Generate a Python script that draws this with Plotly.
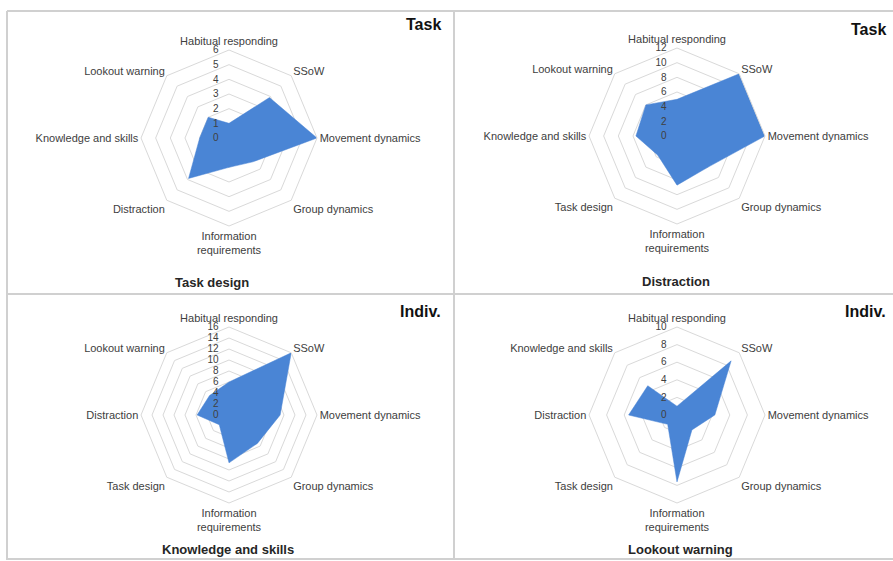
import plotly.graph_objects as go

W, H = 893, 561

# Axis categories (clockwise from the top) for each radar panel
axes_task_design = ["Habitual responding", "SSoW", "Movement dynamics", "Group dynamics",
                    "Information<br>requirements", "Distraction", "Knowledge and skills", "Lookout warning"]
axes_distraction = ["Habitual responding", "SSoW", "Movement dynamics", "Group dynamics",
                    "Information<br>requirements", "Task design", "Knowledge and skills", "Lookout warning"]
axes_knowledge = ["Habitual responding", "SSoW", "Movement dynamics", "Group dynamics",
                  "Information<br>requirements", "Task design", "Distraction", "Lookout warning"]
axes_lookout = ["Habitual responding", "SSoW", "Movement dynamics", "Group dynamics",
                "Information<br>requirements", "Task design", "Distraction", "Knowledge and skills"]

# Values per panel, same order as the axes above
vals_task_design = [1, 3.9, 6, 2.3, 2, 3.9, 2, 2]
vals_distraction = [5, 12, 12, 6, 6.7, 3.7, 5.6, 6]
vals_knowledge = [6, 16, 9.3, 7.3, 8.7, 2.5, 5.8, 5]
vals_lookout = [1, 8.7, 4.3, 2.4, 7.6, 1.5, 5.5, 4.7]

# Radial scale maxima and steps
rmax = [6, 12, 16, 10]
rstep = [1, 2, 2, 2]

titles = ["Task design", "Distraction", "Knowledge and skills", "Lookout warning"]
corner = ["Task", "Task", "Indiv.", "Indiv."]

centers = [(229, 138), (677, 136), (229, 415), (677, 415)]
R = 88

FILL = "#4a85d5"
GRID = "#d9d9d9"
TXT = "#404040"
FONT = "Liberation Sans, Arial, sans-serif"
NBSP = "\u00a0"  # pads the centred radial labels so they sit left of the axis

fig = go.Figure()

panels = [
    (axes_task_design, vals_task_design),
    (axes_distraction, vals_distraction),
    (axes_knowledge, vals_knowledge),
    (axes_lookout, vals_lookout),
]


def domain(cx, cy, r):
    return dict(x=[(cx - r) / W, (cx + r) / W], y=[1 - (cy + r) / H, 1 - (cy - r) / H])


for i, (cats, vals) in enumerate(panels):
    key = "polar" if i == 0 else f"polar{i + 1}"
    fig.add_trace(go.Scatterpolar(
        r=vals + vals[:1], theta=cats + cats[:1],
        mode="lines", fill="toself", fillcolor=FILL,
        line=dict(color=FILL, width=0.5),
        subplot=key, showlegend=False, hoverinfo="skip",
    ))
    cx, cy = centers[i]
    ticks = list(range(0, rmax[i] + 1, rstep[i]))
    fig.update_layout(**{key: dict(
        domain=domain(cx, cy, R),
        gridshape="linear",
        bgcolor="white",
        angularaxis=dict(
            direction="clockwise", rotation=90, type="category",
            categoryarray=cats, showgrid=False, showline=True,
            linecolor=GRID, linewidth=1, ticks="",
            tickfont=dict(family=FONT, size=11, color=TXT),
        ),
        radialaxis=dict(
            range=[0, rmax[i]], tickvals=ticks,
            ticktext=[NBSP * (2 * (2 - len(str(t)))) + str(t) + NBSP * 3 for t in ticks],
            angle=90, tickangle=90, side="counterclockwise",
            showline=False, ticks="", gridcolor=GRID, gridwidth=1,
            tickfont=dict(family=FONT, size=10, color=TXT),
        ),
    )})

# Panel titles
title_pos = [(212, 282), (676, 281), (228, 549), (680, 549)]
for (x, y), t in zip(title_pos, titles):
    fig.add_annotation(x=x / W, y=1 - y / H, xref="paper", yref="paper",
                       text=f"<b>{t}</b>", showarrow=False,
                       xanchor="center", yanchor="middle",
                       font=dict(family=FONT, size=13, color="#262626"))

# Corner tags
corner_pos = [(443, 25), (888, 29), (443, 311), (888, 311)]
for (x, y), t in zip(corner_pos, corner):
    fig.add_annotation(x=x / W, y=1 - y / H, xref="paper", yref="paper",
                       text=f"<b>{t}</b>", showarrow=False,
                       xanchor="right", yanchor="middle",
                       font=dict(family="Liberation Sans Narrow, Arial Narrow, sans-serif",
                                 size=16, color="#111111"))

# Panel frames
frame = dict(type="line", xref="paper", yref="paper", line=dict(color="#d0d0d0", width=2))
for x0, y0, x1, y1 in [(7, 11, 7, 560), (7, 11, 893, 11), (454, 11, 454, 560),
                       (7, 294, 893, 294), (7, 559, 893, 559)]:
    fig.add_shape(**frame, x0=x0 / W, y0=1 - y0 / H, x1=x1 / W, y1=1 - y1 / H)

fig.update_layout(width=W, height=H, margin=dict(l=0, r=0, t=0, b=0),
                  paper_bgcolor="white", plot_bgcolor="white")

fig.write_html("out.html")
